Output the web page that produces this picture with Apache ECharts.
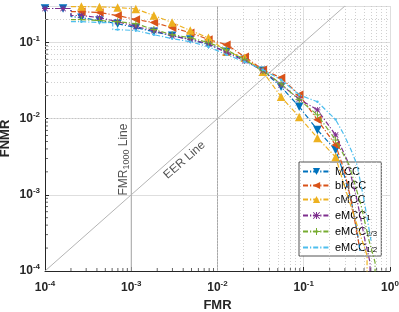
<!DOCTYPE html>
<html><head><meta charset="utf-8">
<script src="https://cdn.jsdelivr.net/npm/echarts@6/dist/echarts.min.js"></script>
<style>html,body{margin:0;padding:0;background:#fff}#c{width:399px;height:312px}</style>
</head><body><div id="c"></div>
<script>
// ---- data ----
// each point: [FMR, FNMR, showMarker]
const seriesNames = ['MCC', 'bMCC', 'cMCC', 'eMCC_1', 'eMCC_2/3', 'eMCC_1/2'];
const legendMain = ['MCC', 'bMCC', 'cMCC', 'eMCC', 'eMCC', 'eMCC'];
const legendSub = ['', '', '', '1', '2/3', '1/2'];

const mcc = [[1.0e-4,0.278,1],[1.62e-4,0.278,1],[2.0e-4,0.278,0],[2.0e-4,0.218,0],[2.64e-4,0.211,1],[4.28e-4,0.193,1],[6.95e-4,0.176,1],[1.13e-3,0.156,1],[1.83e-3,0.138,1],[2.98e-3,0.122,1],[4.83e-3,0.109,1],[7.85e-3,0.0933,1],[0.0127,0.0755,1],[0.0207,0.0592,1],[0.0336,0.0424,1],[0.0546,0.0261,1],[0.0886,0.0143,1],[0.144,0.0071,1],[0.234,0.00388,1],[0.294,0.00182,0],[0.354,0.00085,0],[0.415,0.00034,0],[0.45,0.00018,0]];
const bmcc = [[2.0e-4,0.253,0],[2.64e-4,0.253,1],[4.28e-4,0.246,1],[6.95e-4,0.225,1],[1.13e-3,0.199,1],[1.83e-3,0.182,1],[2.98e-3,0.156,1],[4.83e-3,0.134,1],[7.85e-3,0.109,1],[0.0127,0.0933,1],[0.0207,0.0648,1],[0.0336,0.0437,1],[0.0546,0.0343,1],[0.0886,0.0205,1],[0.144,0.00962,1],[0.234,0.00451,1],[0.294,0.00211,0],[0.354,0.00085,0],[0.438,0.00022,0]];
const cmcc = [[2.0e-4,0.295,0],[2.64e-4,0.295,1],[4.28e-4,0.292,1],[6.95e-4,0.286,1],[1.13e-3,0.275,1],[1.83e-3,0.225,1],[2.98e-3,0.182,1],[4.83e-3,0.143,1],[7.85e-3,0.115,1],[0.0127,0.0755,1],[0.0207,0.0629,1],[0.0336,0.0412,1],[0.0546,0.0193,1],[0.0886,0.0105,1],[0.144,0.00557,1],[0.234,0.00313,1],[0.294,0.00134,0],[0.415,0.0004,0],[0.542,0.00016,0],[0.542,0.00005,0]];
const emcc1 = [[1.0e-4,0.278,1],[1.62e-4,0.278,1],[2.0e-4,0.278,0],[2.0e-4,0.225,0],[2.64e-4,0.225,1],[4.28e-4,0.211,1],[6.95e-4,0.187,1],[1.13e-3,0.161,1],[1.83e-3,0.143,1],[2.98e-3,0.122,1],[4.83e-3,0.109,1],[7.85e-3,0.0961,1],[0.0127,0.0732,1],[0.0207,0.0574,1],[0.0336,0.0424,1],[0.0546,0.0278,1],[0.0886,0.018,1],[0.144,0.013,1],[0.234,0.0061,1],[0.318,0.00286,0],[0.415,0.00085,0],[0.514,0.00025,0],[0.587,0.00013,0],[0.587,0.00005,0]];
const emcc23 = [[2.0e-4,0.199,0],[2.64e-4,0.199,1],[4.28e-4,0.193,1],[6.95e-4,0.187,1],[1.13e-3,0.176,1],[1.83e-3,0.147,1],[2.98e-3,0.126,1],[4.83e-3,0.115,1],[7.85e-3,0.0991,1],[0.0127,0.0801,1],[0.0207,0.0592,1],[0.0336,0.0424,1],[0.0546,0.0286,1],[0.0886,0.0176,1],[0.144,0.0112,1],[0.234,0.00525,1],[0.336,0.00246,0],[0.462,0.00073,0],[0.572,0.00025,0],[0.671,0.00013,0],[0.671,0.00005,0]];
const emcc12 = [[2.0e-4,0.187,0],[2.64e-4,0.187,1],[4.28e-4,0.182,1],[6.1e-4,0.182,0],[6.1e-4,0.147,0],[6.95e-4,0.147,1],[1.13e-3,0.143,1],[1.83e-3,0.126,1],[2.98e-3,0.112,1],[4.83e-3,0.102,1],[7.85e-3,0.0878,1],[0.0127,0.0689,1],[0.0207,0.0557,1],[0.0336,0.0437,1],[0.0546,0.0323,1],[0.0886,0.0205,1],[0.144,0.0166,1],[0.234,0.0097,1],[0.294,0.0061,0],[0.354,0.00388,0],[0.415,0.00246,0],[0.5,0.00085,0],[0.603,0.00025,0]];
const curves = [mcc, bmcc, cmcc, emcc1, emcc23, emcc12];

// reference lines
const vLinesX = [1e-3, 1e-2];
const eerLine = [[1e-4, 1e-4], [0.3, 0.3]];
// text annotations: [FMR, FNMR] of text centre
const fmrLabelPos = [8.2e-4, 2.9e-3];
const eerLabelPos = [4.15e-3, 2.86e-3];

const xRange = [1e-4, 1];
const yRange = [1e-4, 0.3];

// ---- styling ----
const FONT = "'Liberation Sans', Arial, Helvetica, sans-serif";
const colors = ['#0072BD', '#D95319', '#EDB120', '#7E2F8E', '#77AC30', '#4DBEEE'];
const ASTER = 'path://M0,1L1,0L10,9L9,10ZM9,0L10,1L1,10L0,9ZM4.3,0H5.7V10H4.3ZM0,4.3H10V5.7H0Z';
const PLUS = 'path://M4.3,0H5.7V10H4.3ZM0,4.3H10V5.7H0Z';
const symbols = [
  {symbol: 'triangle', rot: 180, size: 8.5},
  {symbol: 'triangle', rot: 90, size: 8.5},
  {symbol: 'triangle', rot: 0, size: 8.5},
  {symbol: ASTER, rot: 0, size: 6},
  {symbol: PLUS, rot: 0, size: 7},
  {symbol: 'circle', rot: 0, size: 2.5}
];
const DASHDOT = [5, 2, 1.2, 2];

const minorX = [], minorY = [];
for (let e = -4; e < 0; e++) for (let m = 2; m <= 9; m++) {
  const v = +(m * Math.pow(10, e)).toPrecision(3);
  minorX.push(v);
  if (v < yRange[1] - 1e-9) minorY.push(v);
}

function decLabel(v) {
  const e = Math.log10(v), r = Math.round(e);
  if (Math.abs(e - r) > 1e-6) return '';
  return '{b|10}{p|' + r + '}';
}
const tickRich = {
  b: {fontSize: 12, fontWeight: 'bold', fontFamily: FONT, color: '#262626', lineHeight: 16},
  p: {fontSize: 8, fontWeight: 'bold', fontFamily: FONT, color: '#262626', lineHeight: 8, verticalAlign: 'top'}
};

const series = [];
// minor grid
series.push({
  type: 'line', data: [], silent: true, z: 1,
  markLine: {
    silent: true, symbol: ['none', 'none'], label: {show: false}, animation: false,
    lineStyle: {type: [1, 2], color: '#c4c4c4', width: 0.8},
    data: minorX.map(v => ({xAxis: v})).concat(minorY.map(v => ({yAxis: v})))
  }
});
// minor ticks
series.push({
  type: 'scatter', silent: true, z: 3, symbol: 'rect', symbolSize: [0.9, 3], symbolOffset: [0, -1.5],
  itemStyle: {color: '#262626'}, data: minorX.map(v => [v, yRange[0]])
});
series.push({
  type: 'scatter', silent: true, z: 3, symbol: 'rect', symbolSize: [3, 0.9], symbolOffset: [1.5, 0],
  itemStyle: {color: '#262626'}, data: minorY.map(v => [xRange[0], v])
});
// reference lines
vLinesX.forEach(x => series.push({
  type: 'line', silent: true, z: 2, symbol: 'none',
  lineStyle: {color: '#a8a8a8', width: 1}, data: [[x, yRange[0]], [x, yRange[1]]]
}));
series.push({
  type: 'line', silent: true, z: 2, symbol: 'none',
  lineStyle: {color: '#b4b4b4', width: 1}, data: eerLine
});
// annotations
series.push({
  type: 'scatter', silent: true, z: 3, symbolSize: 1, itemStyle: {color: 'rgba(0,0,0,0)'},
  data: [fmrLabelPos],
  label: {show: true, position: 'inside', rotate: 90, formatter: 'FMR{s|1000} Line',
    fontSize: 12, fontFamily: FONT, color: '#262626', lineHeight: 14,
    rich: {s: {fontSize: 9, fontFamily: FONT, color: '#262626', lineHeight: 9, padding: [7, 0, 0, 0], verticalAlign: 'bottom'}}}
});
series.push({
  type: 'scatter', silent: true, z: 3, symbolSize: 1, itemStyle: {color: 'rgba(0,0,0,0)'},
  data: [eerLabelPos],
  label: {show: true, position: 'inside', rotate: 41, formatter: 'EER Line',
    fontSize: 12, fontFamily: FONT, color: '#262626'}
});
// curves
curves.forEach((pts, i) => {
  const s = symbols[i];
  series.push({
    name: seriesNames[i], type: 'line', z: 5 + i,
    symbol: s.symbol, symbolRotate: s.rot, symbolSize: s.size, showSymbol: true,
    lineStyle: {color: colors[i], width: 1.2, type: DASHDOT},
    itemStyle: {color: colors[i]},
    data: pts.map(p => p[2] ? {value: [p[0], p[1]]} : {value: [p[0], p[1]], symbol: 'none'})
  });
});

const chart = echarts.init(document.getElementById('c'), null, {renderer: 'canvas'});
chart.setOption({
  animation: false,
  backgroundColor: '#fff',
  grid: {left: 45, right: 9, top: 6, bottom: 41, containLabel: false, outerBoundsMode: 'none'},
  xAxis: {
    type: 'log', min: xRange[0], max: xRange[1], logBase: 10,
    name: 'FMR', nameLocation: 'middle', nameGap: 28, nameMoveOverlap: false,
    nameTextStyle: {fontSize: 13, fontWeight: 'bold', fontFamily: FONT, color: '#262626'},
    axisLine: {show: true, onZero: false, lineStyle: {color: '#262626', width: 1}},
    axisTick: {show: true, inside: true, length: 4, lineStyle: {color: '#262626'}},
    axisLabel: {formatter: decLabel, margin: 9, rich: tickRich},
    splitLine: {show: true, lineStyle: {color: '#dedede', width: 1}}
  },
  yAxis: {
    type: 'log', min: yRange[0], max: yRange[1], logBase: 10,
    name: 'FNMR', nameLocation: 'middle', nameGap: 33, nameMoveOverlap: false,
    nameTextStyle: {fontSize: 13, fontWeight: 'bold', fontFamily: FONT, color: '#262626'},
    axisLine: {show: true, onZero: false, lineStyle: {color: '#262626', width: 1}},
    axisTick: {show: true, inside: true, length: 4, lineStyle: {color: '#262626'}},
    axisLabel: {formatter: decLabel, margin: 5, rich: tickRich},
    splitLine: {show: true, lineStyle: {color: '#dedede', width: 1}}
  },
  legend: {
    data: seriesNames.map((n, i) => i === 5 ? {name: n, itemStyle: {color: 'rgba(0,0,0,0)'}} : {name: n}),
    orient: 'vertical', left: 299, top: 162,
    backgroundColor: '#fff', borderColor: '#262626', borderWidth: 0.8, borderRadius: 0,
    padding: [3, 4, 2, 3], itemGap: 1, itemWidth: 27, itemHeight: 9,
    formatter: name => {
      const i = seriesNames.indexOf(name);
      return legendMain[i] + (legendSub[i] ? '{s|' + legendSub[i] + '}' : '');
    },
    textStyle: {fontSize: 11, fontFamily: FONT, color: '#000', lineHeight: 13,
      rich: {s: {fontSize: 8, fontFamily: FONT, color: '#000', lineHeight: 8, padding: [7, 0, 0, 0], verticalAlign: 'bottom'}}}
  },
  series: series
});
</script>
</body></html>
